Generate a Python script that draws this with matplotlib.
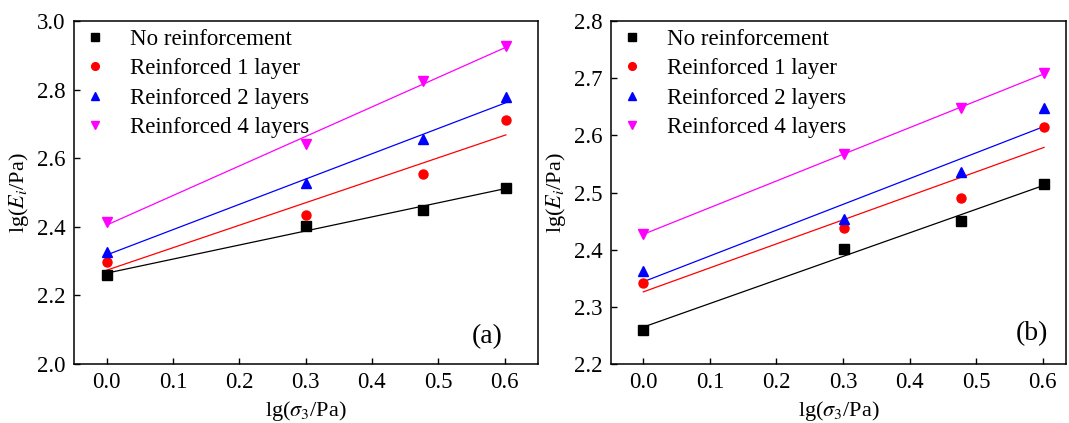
import numpy as np
import matplotlib
matplotlib.use("Agg")
import matplotlib.pyplot as plt

plt.rcParams['font.family'] = ['Liberation Serif', 'DejaVu Serif']
plt.rcParams['mathtext.fontset'] = 'stix'

x_lg = [0.0, 0.301, 0.477, 0.602]
series_names = ["No reinforcement", "Reinforced 1 layer", "Reinforced 2 layers", "Reinforced 4 layers"]

a_none = [2.260, 2.402, 2.450, 2.513]
a_one = [2.298, 2.435, 2.553, 2.712]
a_two = [2.327, 2.527, 2.656, 2.779]
a_four = [2.414, 2.642, 2.825, 2.927]

b_none = [2.260, 2.402, 2.451, 2.514]
b_one = [2.341, 2.438, 2.490, 2.615]
b_two = [2.362, 2.453, 2.536, 2.647]
b_four = [2.427, 2.568, 2.647, 2.709]

colors = ['black', '#ff0000', '#0000ff', '#ff00ff']
markers = ['s', 'o', '^', 'v']

W, H = 1069, 423
fig = plt.figure(figsize=(W / 100, H / 100), dpi=100)

def px(l, r, t, b):
    return [l / W, 1 - b / H, (r - l) / W, (b - t) / H]

def panel(ax, data, ylim, yticks, xlim, tag, tagpos):
    xs = np.array(x_lg)
    for ys, c, m, name in zip(data, colors, markers, series_names):
        ax.plot(xs, ys, linestyle='none', marker=m, color=c, markersize=6.5, label=name, zorder=3)
        k, b0 = np.polyfit(xs, ys, 1)
        ax.plot(xs[[0, -1]], k * xs[[0, -1]] + b0, color=c, lw=0.9, zorder=2)
    ax.set_xlim(*xlim)
    ax.set_ylim(*ylim)
    ax.set_xticks([0.0, 0.1, 0.2, 0.3, 0.4, 0.5, 0.6])
    ax.set_xticklabels(['0.0', '0.1', '0.2', '0.3', '0.4', '0.5', '0.6'])
    ax.set_yticks(yticks)
    ax.set_yticklabels([f'{v:.1f}' for v in yticks])
    ax.tick_params(direction='in', length=4.5, width=1, labelsize=16.5, pad=6)
    for s in ax.spines.values():
        s.set_linewidth(1.1)
    ax.set_xlabel(r'lg($\sigma_3$/Pa)', fontsize=16, labelpad=4)
    ax.set_ylabel(r'lg($E_i$/Pa)', fontsize=16, labelpad=4)
    ax.legend(loc='upper left', frameon=False, fontsize=16.5, handlelength=1.0,
              handletextpad=1.0, labelspacing=0.36, borderaxespad=0.2,
              bbox_to_anchor=(-0.008, 1.017), markerscale=0.85)
    ax.text(tagpos[0], tagpos[1], tag, transform=ax.transAxes, ha='center', va='center', fontsize=20)

ax1 = fig.add_axes(px(74, 537.7, 21, 364))
panel(ax1, [a_none, a_one, a_two, a_four], (2.0, 3.0), [2.0, 2.2, 2.4, 2.6, 2.8, 3.0],
      (-0.049, 0.65), '(a)', (0.89, 0.079))

ax2 = fig.add_axes(px(610.7, 1066, 21, 364))
panel(ax2, [b_none, b_one, b_two, b_four], (2.2, 2.8), [2.2, 2.3, 2.4, 2.5, 2.6, 2.7, 2.8],
      (-0.049, 0.635), '(b)', (0.925, 0.09))

fig.savefig('out.png', dpi=100)
